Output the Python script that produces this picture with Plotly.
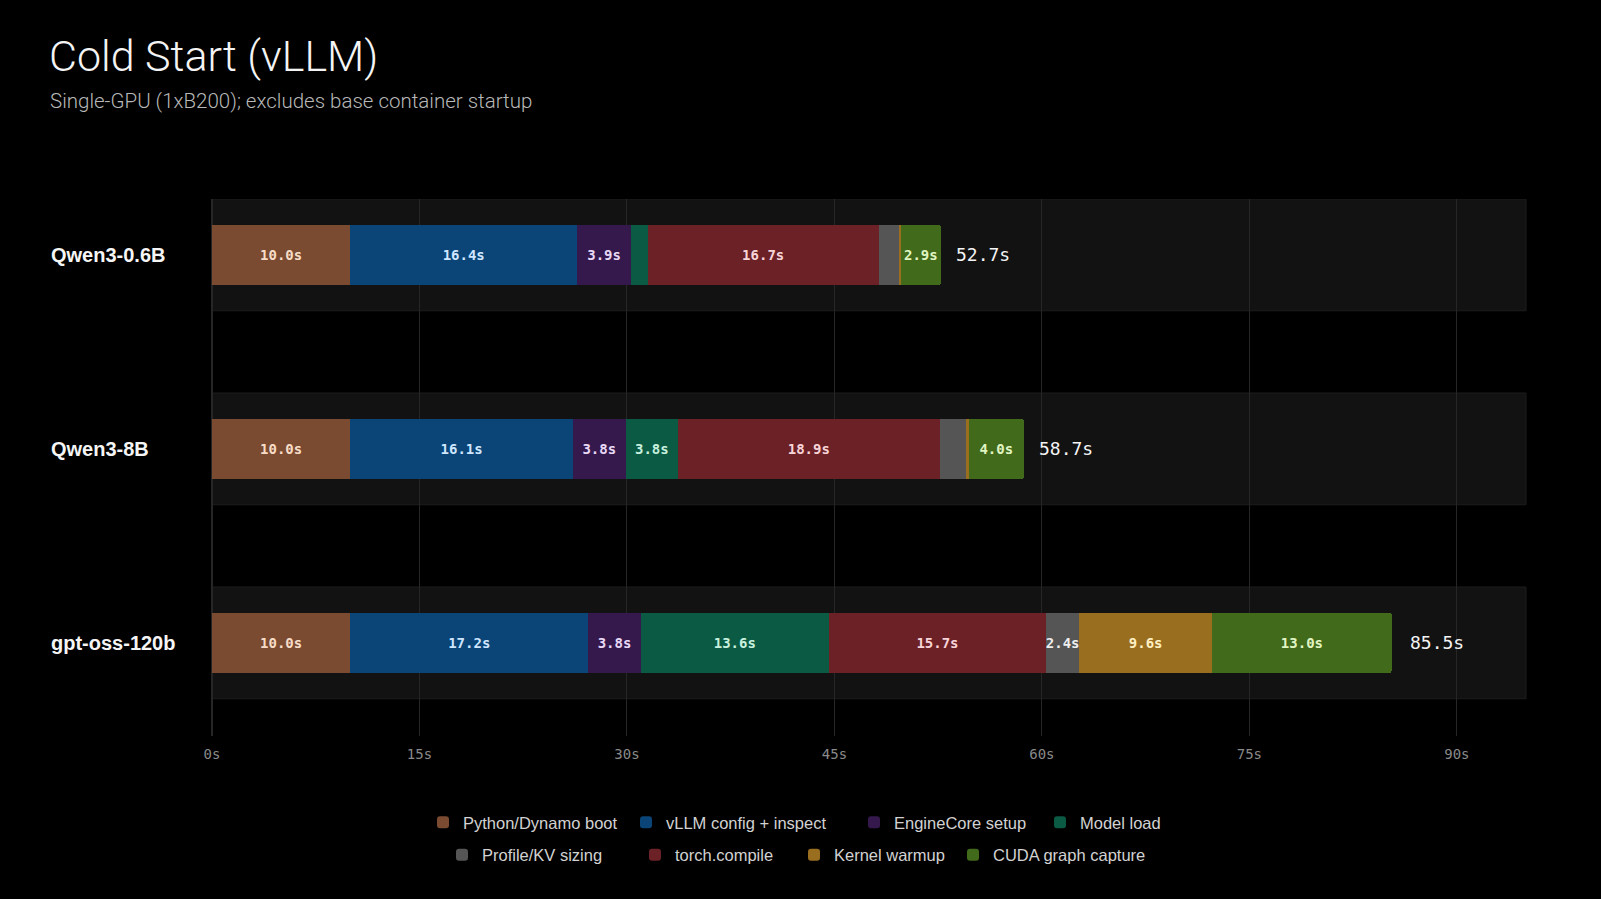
import plotly.graph_objects as go

# Cold start breakdown per model, seconds
MODELS = ["Qwen3-0.6B", "Qwen3-8B", "gpt-oss-120b"]
PHASES = ["Python/Dynamo boot", "vLLM config + inspect", "EngineCore setup", "Model load",
          "Profile/KV sizing", "torch.compile", "Kernel warmup", "CUDA graph capture"]

python_boot = [10.0, 10.0, 10.0]
vllm_config = [16.4, 16.1, 17.2]
enginecore = [3.9, 3.8, 3.8]
model_load = [1.2, 3.8, 13.6]
torch_compile = [16.7, 18.9, 15.7]
profile_kv = [1.5, 1.9, 2.4]
kernel_warmup = [0.1, 0.2, 9.6]
cuda_graph = [2.9, 4.0, 13.0]

TOTALS = [52.7, 58.7, 85.5]
X_TICKS = [0, 15, 30, 45, 60, 75, 90]

# draw order along the bar (torch.compile comes before profiling)
SEGMENTS = [
    ("Python/Dynamo boot", python_boot, "#7a4a31", "#f6dcc6"),
    ("vLLM config + inspect", vllm_config, "#0b4477", "#cfe6ff"),
    ("EngineCore setup", enginecore, "#35194c", "#e8d8f6"),
    ("Model load", model_load, "#0b5a43", "#c6f0dd"),
    ("torch.compile", torch_compile, "#6c2127", "#f7d4d7"),
    ("Profile/KV sizing", profile_kv, "#555555", "#eeeeee"),
    ("Kernel warmup", kernel_warmup, "#9a6e1f", "#fff0c2"),
    ("CUDA graph capture", cuda_graph, "#416a1b", "#e0f5c2"),
]

SANS = "Liberation Sans, Arial, sans-serif"
LIGHT = "Roboto, Liberation Sans, sans-serif"
MONO = "DejaVu Sans Mono, monospace"

# one small legend per entry so the two centred rows can be spaced like the slide
LEGEND_LEFT = [423, 626, 854, 1040, 442, 635, 794, 953]   # px, swatch left minus padding
LEGEND_ROW_Y = [0.085, 0.085, 0.085, 0.085, 0.049, 0.049, 0.049, 0.049]


def legend_id(k):
    return "legend" if k == 0 else f"legend{k + 1}"


rows = list(range(len(MODELS)))

fig = go.Figure()
for name, vals, color, txtcolor in SEGMENTS:
    fig.add_trace(go.Bar(
        x=vals, y=rows, orientation="h", name=name, width=0.31,
        marker=dict(color=color, line=dict(width=0)),
        text=[f"{v:.1f}s" if v >= 2 else "" for v in vals],
        textposition="inside", insidetextanchor="middle", textangle=0,
        textfont=dict(family=MONO, size=14, color=txtcolor, weight="bold"),
        legend=legend_id(PHASES.index(name)),
        hoverinfo="skip",
    ))

# row bands behind the bars
for i in rows:
    fig.add_shape(type="rect", xref="paper", yref="y", x0=0, x1=1,
                  y0=i - 0.288, y1=i + 0.288, layer="between",
                  fillcolor="#121212", line=dict(color="#1d1d1d", width=1))

for i, (m, t) in enumerate(zip(MODELS, TOTALS)):
    fig.add_annotation(x=t, y=i, text=f"{t:.1f}s", showarrow=False, xanchor="left", xshift=13,
                       font=dict(family=MONO, size=18, color="#f4f4f4"))
    fig.add_annotation(xref="paper", x=-0.1237, y=i, text=m, showarrow=False, xanchor="left",
                       font=dict(family=SANS, size=20, color="#f5f5f5", weight="bold"))

fig.add_annotation(xref="paper", yref="paper", x=-0.1255, y=1.266, yanchor="middle", xanchor="left",
                   text="Cold Start (vLLM)", showarrow=False,
                   font=dict(family=LIGHT, size=43, color="#f4f4f4", weight=300))
fig.add_annotation(xref="paper", yref="paper", x=-0.1245, y=1.182, yanchor="middle", xanchor="left",
                   text="Single-GPU (1xB200); excludes base container startup", showarrow=False,
                   font=dict(family=LIGHT, size=20.5, color="#b8b8b8", weight=300))

legends = {}
for k in range(len(PHASES)):
    legends[legend_id(k)] = dict(
        orientation="h", xref="container", yref="container",
        x=LEGEND_LEFT[k] / 1601, xanchor="left", y=LEGEND_ROW_Y[k], yanchor="middle",
        bgcolor="rgba(0,0,0,0)", itemwidth=30, itemclick=False,
        font=dict(family=SANS, size=16.5, color="#d2d2d2"))

fig.update_layout(
    width=1601, height=899,
    paper_bgcolor="#000000", plot_bgcolor="#000000",
    barmode="stack", barcornerradius=3,
    margin=dict(l=212, r=75, t=199, b=163),
    uniformtext=dict(minsize=14, mode="show"),
    showlegend=True,
    xaxis=dict(range=[0, 95], tickmode="array", tickvals=X_TICKS,
               ticktext=[f"{v}s" for v in X_TICKS], showgrid=True,
               gridcolor="#262626", gridwidth=1, zeroline=True, zerolinecolor="#262626",
               showline=False, ticks="outside", ticklen=5, tickcolor="rgba(0,0,0,0)",
               tickfont=dict(family=MONO, size=14, color="#8a8a8a"), fixedrange=True),
    yaxis=dict(range=[2.48, -0.288], showticklabels=False, showgrid=False, zeroline=False,
               fixedrange=True),
    **legends,
)

fig.write_html("out.html", config={"displayModeBar": False},
               post_script="document.body.style.margin='0';"
               "document.body.style.background='#000';document.body.style.overflow='hidden';")
